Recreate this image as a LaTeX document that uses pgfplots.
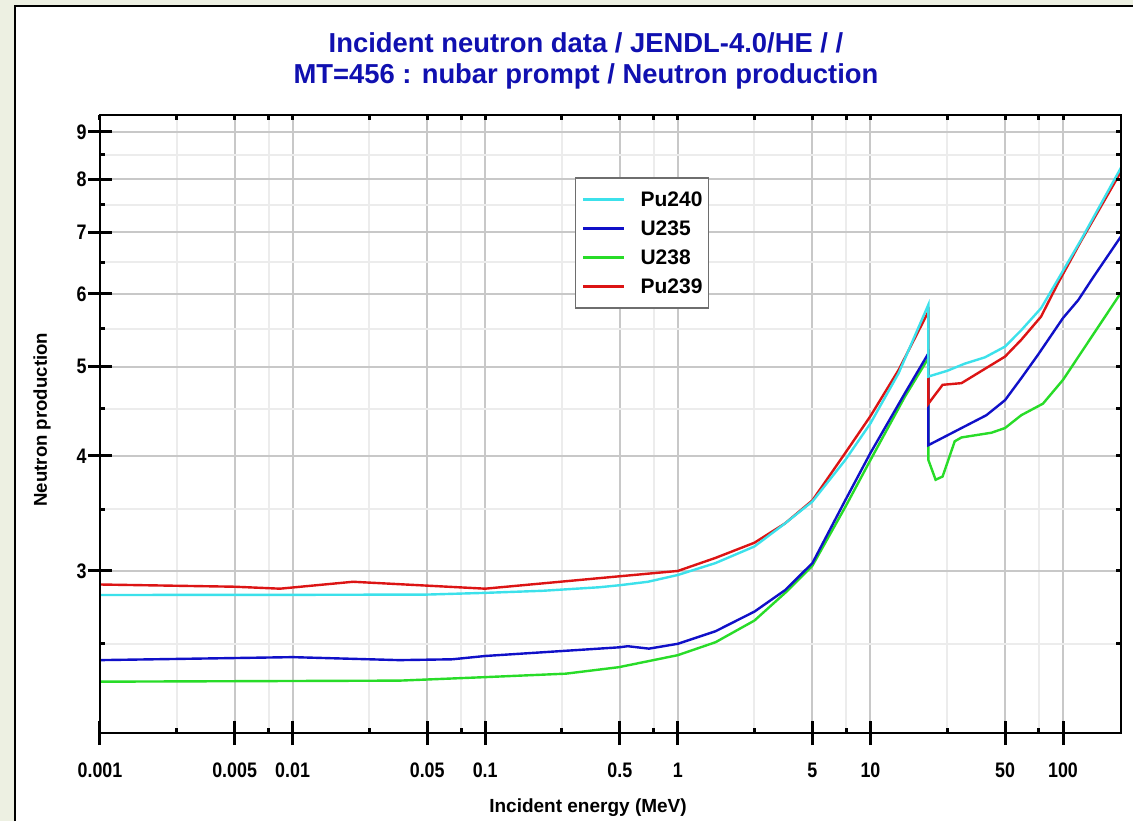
\documentclass[border=0pt]{standalone}
\usepackage{fontspec}
\setmainfont{Liberation Sans}
\newfontfamily\narrowfont{Liberation Sans}[FakeStretch=0.85]
\usepackage{pgfplots}
\pgfplotsset{compat=1.18}

\definecolor{bgpale}{RGB}{237,240,226}
\definecolor{titleblue}{RGB}{16,16,176}
\definecolor{pucyan}{RGB}{60,225,235}
\definecolor{ublue}{RGB}{16,16,200}
\definecolor{ugreen}{RGB}{40,220,40}
\definecolor{pured}{RGB}{220,20,20}
\definecolor{gridmaj}{RGB}{200,200,200}
\definecolor{gridmin}{RGB}{236,236,236}

\begin{document}
\begin{tikzpicture}
\path[use as bounding box] (0,0) rectangle (566.5pt,410.5pt);
\fill[bgpale] (0,0) rectangle (566.5pt,410.5pt);
\fill[white] (7.5pt,0) rectangle (566.5pt,407.5pt);
\draw[black, line width=0.6pt] (7.5pt,0) -- (7.5pt,407.5pt) -- (566.5pt,407.5pt);

\begin{axis}[
  at={(50pt,44pt)}, anchor=south west,
  scale only axis, width=510.5pt, height=309pt,
  xmode=log, ymode=log,
  xmin=0.001, xmax=200, ymin=2, ymax=9.39,
  xtick={0.001,0.005,0.01,0.05,0.1,0.5,1,5,10,50,100},
  xticklabels={0.001,0.005,0.01,0.05,0.1,0.5,1,5,10,50,100},
  minor xtick={0.0025,0.0075,0.025,0.075,0.25,0.75,2.5,7.5,25,75},
  ytick={3,4,5,6,7,8,9},
  yticklabels={3,4,5,6,7,8,9},
  minor ytick={2.5,3.5,4.5,5.5,6.5,7.5,8.5},
  grid=both,
  major grid style={line width=1pt, draw=gridmaj},
  minor grid style={line width=1pt, draw=gridmin},
  tick align=center, major tick length=12pt, minor tick length=0pt,
  xtick pos=bottom, ytick pos=left,
  every major tick/.append style={line width=1.5pt, black},
  axis line style={line width=1pt},
  tick label style={font=\narrowfont\bfseries\fontsize{10.5}{12}\selectfont, inner sep=0pt},
  xticklabel style={text height=7.5pt, text depth=0pt},
  xticklabel shift=8.3pt, yticklabel shift=0.5pt,
  xlabel={Incident energy (MeV)},
  xlabel style={at={(axis description cs:0.478,-0.121)}, anchor=center,
    font=\bfseries\fontsize{9.5}{11}\selectfont},
  ylabel={Neutron production},
  ylabel style={at={(axis description cs:-0.0568,0.507)}, anchor=center,
    font=\bfseries\fontsize{9.3}{11}\selectfont},
  legend image code/.code={\draw[#1, line width=1.5pt] (0pt,3.6pt) -- (20.5pt,3.6pt);},
  legend cell align=left,
  legend style={at={(0.465,0.8997)}, anchor=north west,
    draw={rgb,255:red,110;green,110;blue,110}, line width=0.8pt,
    inner xsep=3pt, inner ysep=7pt, row sep=7pt, column sep=7.5pt,
    font=\bfseries\fontsize{10.5}{12}\selectfont,
    nodes={inner sep=0pt, text height=7.5pt, text depth=0pt, anchor=base west}},
]
\addlegendimage{pucyan}
\addlegendentry{Pu240}
\addlegendimage{ublue}
\addlegendentry{U235}
\addlegendimage{ugreen}
\addlegendentry{U238}
\addlegendimage{pured}
\addlegendentry{Pu239}

% U238
\addplot[ugreen, line width=1.2pt, forget plot] table {
0.001 2.274
0.036 2.28
0.1 2.30
0.262 2.32
0.494 2.358
1 2.43
1.57 2.51
2.5 2.65
3.61 2.84
5 3.04
7.4 3.52
10 3.96
15.1 4.64
19.99 5.11
20 3.96
21.8 3.77
23.7 3.80
27.4 4.15
29.7 4.19
42.5 4.24
50 4.29
60.7 4.43
78.7 4.56
100 4.84
200 6.02
};
% U235
\addplot[ublue, line width=1.2pt, forget plot] table {
0.001 2.40
0.01 2.418
0.0358 2.40
0.0675 2.405
0.1 2.425
0.494 2.478
0.55 2.485
0.708 2.47
1 2.50
1.57 2.58
2.5 2.71
3.61 2.86
5 3.06
7.4 3.58
10 4.03
15.1 4.68
19.99 5.17
20 4.11
40 4.43
50 4.60
60.7 4.86
74 5.15
100 5.65
120 5.91
143 6.25
200 6.93
};
% Pu239
\addplot[pured, line width=1.2pt, forget plot] table {
0.001 2.90
0.005 2.884
0.0086 2.87
0.0206 2.92
0.1 2.87
0.494 2.96
1 3.00
1.57 3.10
2.5 3.22
3.61 3.38
5 3.58
7.4 4.03
10 4.42
14 4.96
19.99 5.74
20 4.56
23.7 4.78
29.7 4.80
50 5.13
60.7 5.35
76.9 5.67
94 6.16
124 6.85
200 8.15
};
% Pu240
\addplot[pucyan, line width=1.2pt, forget plot] table {
0.001 2.825
0.01 2.826
0.05 2.828
0.1 2.84
0.2 2.855
0.39 2.88
0.5 2.895
0.7 2.92
1 2.97
1.57 3.06
2.5 3.19
3.61 3.38
5 3.57
7.4 3.96
10 4.34
14 4.92
19.99 5.84
20 4.88
25 4.95
30.9 5.04
39.3 5.12
50 5.26
60.7 5.48
76.9 5.79
94 6.22
124 6.87
200 8.23
};
\end{axis}

\begin{axis}[
  at={(50pt,44pt)}, anchor=south west,
  scale only axis, width=510.5pt, height=309pt,
  xmode=log, ymode=log,
  xmin=0.001, xmax=200, ymin=2, ymax=9.39,
  xtick={0.001,0.0025,0.005,0.0075,0.01,0.025,0.05,0.075,0.1,0.25,0.5,0.75,1,2.5,5,7.5,10,25,50,75,100},
  ytick={2.5,3,3.5,4,4.5,5,5.5,6,6.5,7,7.5,8,8.5,9},
  xticklabel=\empty, yticklabel=\empty,
  tick align=inside, major tick length=2.5pt, minor tick length=0pt,
  xtick pos=both, ytick pos=both,
  every major tick/.append style={line width=1.5pt, black},
  axis line style={line width=1pt},
]
\draw[line width=1.5pt] (rel axis cs:0,1) -- (rel axis cs:0,0) -- (rel axis cs:1,0);
\end{axis}

\node[anchor=base, inner sep=0pt, text=titleblue, font=\bfseries\fontsize{13.7}{16}\selectfont]
  at (293pt,384.3pt) {Incident neutron data / JENDL-4.0/HE / /};
\node[anchor=base, inner sep=0pt, text=titleblue, font=\bfseries\fontsize{13.7}{16}\selectfont]
  at (293pt,368.9pt) {MT=456 : nubar prompt / Neutron production};
\end{tikzpicture}
\end{document}
